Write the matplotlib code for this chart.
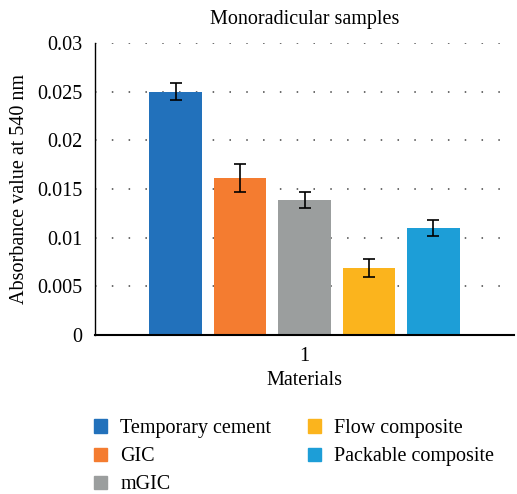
import matplotlib.pyplot as plt
import numpy as np
from matplotlib.patches import Patch

plt.rcParams['font.family'] = ['Liberation Serif', 'DejaVu Serif']

materials = ["Temporary cement", "GIC", "mGIC", "Flow composite", "Packable composite"]
values = [0.0250, 0.0161, 0.0139, 0.0069, 0.0110]
errors = [0.0009, 0.00145, 0.00082, 0.0009, 0.00085]
colors = ["#2271bb", "#f47c30", "#9b9e9e", "#fbb41d", "#1d9ed7"]
group_label = ["1"]

fs = 14.5
fig = plt.figure(figsize=(5.17, 4.94), dpi=100)
ax = fig.add_axes([0.184, 0.322, 0.81, 0.591])

pitch = 0.154
width = 0.126
offs = (np.arange(len(materials)) - 2) * pitch
for i in range(len(materials)):
    ax.bar(offs[i], values[i], width, color=colors[i], zorder=2)
    ax.errorbar(offs[i], values[i], yerr=errors[i], fmt='none', ecolor='black',
                elinewidth=1.2, capsize=4, capthick=1.2, zorder=3)

ax.set_xlim(-0.5, 0.5)
ax.set_ylim(0, 0.03)
ax.set_yticks([0, 0.005, 0.01, 0.015, 0.02, 0.025, 0.03])
ax.set_yticklabels(["0", "0.005", "0.01", "0.015", "0.02", "0.025", "0.03"])
ax.set_xticks([0])
ax.set_xticklabels(group_label)
ax.tick_params(length=0, labelsize=fs, pad=9)
ax.yaxis.grid(True, linestyle=(0, (1, 10)), color='#444444', linewidth=1.1, zorder=0)
ax.set_axisbelow(True)
for s in ['top', 'right']:
    ax.spines[s].set_visible(False)
ax.spines['left'].set_linewidth(1.0)
ax.spines['bottom'].set_linewidth(1.5)

ax.set_title("Monoradicular samples", fontsize=fs, pad=14)
ax.set_xlabel("Materials", fontsize=fs, labelpad=3)
ax.set_ylabel("Absorbance value at 540 nm", fontsize=fs, labelpad=6)

handles = [Patch(color=c) for c in colors]
fig.legend(handles, materials, ncol=2, loc='upper left', bbox_to_anchor=(0.147, 0.188),
           frameon=False, fontsize=fs, handlelength=0.65, handleheight=0.65,
           handletextpad=0.65, labelspacing=0.45, columnspacing=1.8)

plt.savefig("out.png", dpi=100)
